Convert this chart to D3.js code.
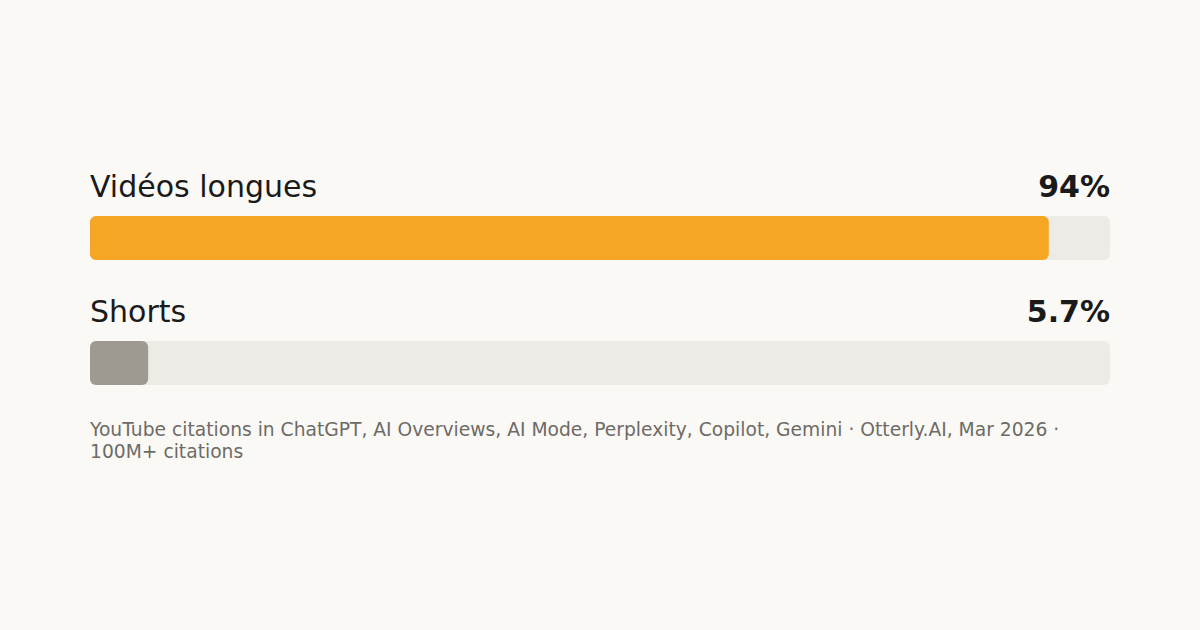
<!DOCTYPE html>
<html>
<head>
<meta charset="utf-8">
<script src="https://cdn.jsdelivr.net/npm/d3@7"></script>
<style>
  html, body { margin: 0; padding: 0; background: #faf9f6; }
  svg { display: block; font-family: "DejaVu Sans", sans-serif; }
</style>
</head>
<body>
<svg id="chart" width="1200" height="630"></svg>
<script>
(function() {
    'use strict';

    // Data
    var categories = ['Vidéos longues', 'Shorts'];
    var shares = [94, 5.7];
    var valueLabels = ['94%', '5.7%'];
    var barColors = ['#f5a623', '#9e9a92'];
    var footnote = 'YouTube citations in ChatGPT, AI Overviews, AI Mode, Perplexity, Copilot, Gemini · Otterly.AI, Mar 2026 · 100M+ citations';

    var width = 1200;
    var left = 90, right = 1110;
    var firstTop = 216, rowStep = 125, barH = 44;

    var svg = d3.select('#chart');

    svg.append('rect')
        .attr('width', width).attr('height', 630)
        .attr('fill', '#faf9f6');

    var x = d3.scaleLinear().domain([0, 100]).range([left, right]);

    var row = svg.selectAll('g.row')
        .data(categories)
        .join('g')
        .attr('class', 'row')
        .attr('transform', function(d, i) { return 'translate(0,' + (firstTop + i * rowStep) + ')'; });

    // track
    row.append('rect')
        .attr('x', x(0))
        .attr('width', x(100) - x(0))
        .attr('height', barH)
        .attr('rx', 6)
        .attr('fill', '#ecebe6');

    // value bar
    row.append('rect')
        .attr('x', x(0))
        .attr('width', function(d, i) { return x(shares[i]) - x(0); })
        .attr('height', barH)
        .attr('rx', 6)
        .attr('fill', function(d, i) { return barColors[i]; });

    row.append('text')
        .attr('x', left)
        .attr('y', -19.5)
        .attr('font-size', 30)
        .attr('fill', '#1a1a1a')
        .text(function(d) { return d; });

    row.append('text')
        .attr('x', right)
        .attr('y', -19.5)
        .attr('text-anchor', 'end')
        .attr('font-size', 30)
        .attr('font-weight', 'bold')
        .attr('fill', '#1a1a1a')
        .text(function(d, i) { return valueLabels[i]; });

    // footnote, wrapped to the bar width
    var note = svg.append('text')
        .attr('x', left)
        .attr('y', 436)
        .attr('font-size', 18.7)
        .attr('fill', '#6e6b66');

    var words = footnote.split(' ');
    var line = [];
    var tspan = note.append('tspan').attr('x', left).attr('dy', 0);
    words.forEach(function(w) {
        line.push(w);
        tspan.text(line.join(' '));
        if (tspan.node().getComputedTextLength() > right - left && line.length > 1) {
            line.pop();
            tspan.text(line.join(' '));
            line = [w];
            tspan = note.append('tspan').attr('x', left).attr('dy', 21.5).text(w);
        }
    });
})();
</script>
</body>
</html>
